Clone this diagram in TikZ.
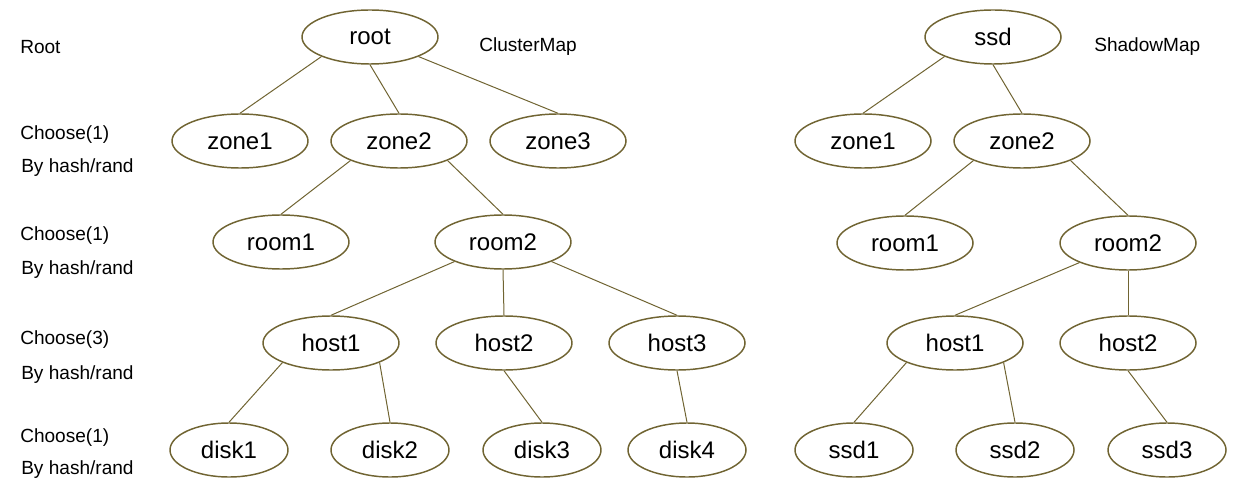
\documentclass[tikz,border=0pt]{standalone}
\usepackage{amsmath}
\usepackage{xcolor}
\usepackage{fontspec}
\setmainfont{Liberation Sans}
\usepackage{tikz}
\usetikzlibrary{shapes.geometric}

\definecolor{olive}{RGB}{112,100,50}

\begin{document}
\begin{tikzpicture}[x=0.75pt,y=0.75pt,yscale=-1,xscale=1,
  elli/.style={ellipse, draw=olive, line width=1.1pt, minimum width=102pt, minimum height=40.5pt, inner sep=0pt, font=\fontsize{18}{20}\selectfont},
  leaf/.style={elli, minimum width=88.5pt},
  lbl/.style={anchor=west, inner sep=0pt, font=\fontsize{14.3}{17}\selectfont},
  conn/.style={draw=olive, line width=0.75}]
%set diagram size
\useasboundingbox (0,0) rectangle (1244,488);

%Text Labels
\node[lbl] (lroot) at (20,47) {Root};
\node[lbl] (lch1) at (20,135) {Choose(1)};
\node[lbl] (lby1) at (21,168) {By hash/rand};
\node[lbl] (lch2) at (20,236) {Choose(1)};
\node[lbl] (lby2) at (21,270) {By hash/rand};
\node[lbl] (lch3) at (20,340) {Choose(3)};
\node[lbl] (lby3) at (21,375) {By hash/rand};
\node[lbl] (lch4) at (20,438) {Choose(1)};
\node[lbl] (lby4) at (21,470) {By hash/rand};
\node[lbl] (cmap) at (479,47) {ClusterMap};
\node[lbl] (smap) at (1094,47) {ShadowMap};

%Ellipses: ClusterMap
\node[elli] (root) at (370,37) {root};
\node[elli] (zone1) at (240,141) {zone1};
\node[elli] (zone2) at (399,141) {zone2};
\node[elli] (zone3) at (558,141) {zone3};
\node[elli] (room1) at (281,242) {room1};
\node[elli] (room2) at (503,242) {room2};
\node[elli] (host1) at (331,343) {host1};
\node[elli] (host2) at (504,343) {host2};
\node[elli] (host3) at (677,343) {host3};
\node[leaf] (disk1) at (229,450) {disk1};
\node[leaf] (disk2) at (390,450) {disk2};
\node[leaf] (disk3) at (542,450) {disk3};
\node[leaf] (disk4) at (687,450) {disk4};

%Ellipses: ShadowMap
\node[elli] (ssd) at (993,37) {ssd};
\node[elli] (szone1) at (863,141) {zone1};
\node[elli] (szone2) at (1022,141) {zone2};
\node[elli] (sroom1) at (905,243) {room1};
\node[elli] (sroom2) at (1128,243) {room2};
\node[elli] (shost1) at (955,343) {host1};
\node[elli] (shost2) at (1128,343) {host2};
\node[leaf] (ssd1) at (854,450) {ssd1};
\node[leaf] (ssd2) at (1015,450) {ssd2};
\node[leaf] (ssd3) at (1167,450) {ssd3};

%Straight Lines: ClusterMap
\draw[conn] (root.south west) -- (zone1.north);
\draw[conn] (root.south) -- (zone2.north);
\draw[conn] (root.south east) -- (zone3.north);
\draw[conn] (zone2.south west) -- (room1.north);
\draw[conn] (zone2.south east) -- (room2.north);
\draw[conn] (room2.south west) -- (host1.north);
\draw[conn] (room2.south) -- (host2.north);
\draw[conn] (room2.south east) -- (host3.north);
\draw[conn] (host1.south west) -- (disk1.north);
\draw[conn] (host1.south east) -- (disk2.north);
\draw[conn] (host2.south) -- (disk3.north);
\draw[conn] (host3.south) -- (disk4.north);

%Straight Lines: ShadowMap
\draw[conn] (ssd.south west) -- (szone1.north);
\draw[conn] (ssd.south) -- (szone2.north);
\draw[conn] (szone2.south west) -- (sroom1.north);
\draw[conn] (szone2.south east) -- (sroom2.north);
\draw[conn] (sroom2.south west) -- (shost1.north);
\draw[conn] (sroom2.south) -- (shost2.north);
\draw[conn] (shost1.south west) -- (ssd1.north);
\draw[conn] (shost1.south east) -- (ssd2.north);
\draw[conn] (shost2.south) -- (ssd3.north);
\end{tikzpicture}
\end{document}
